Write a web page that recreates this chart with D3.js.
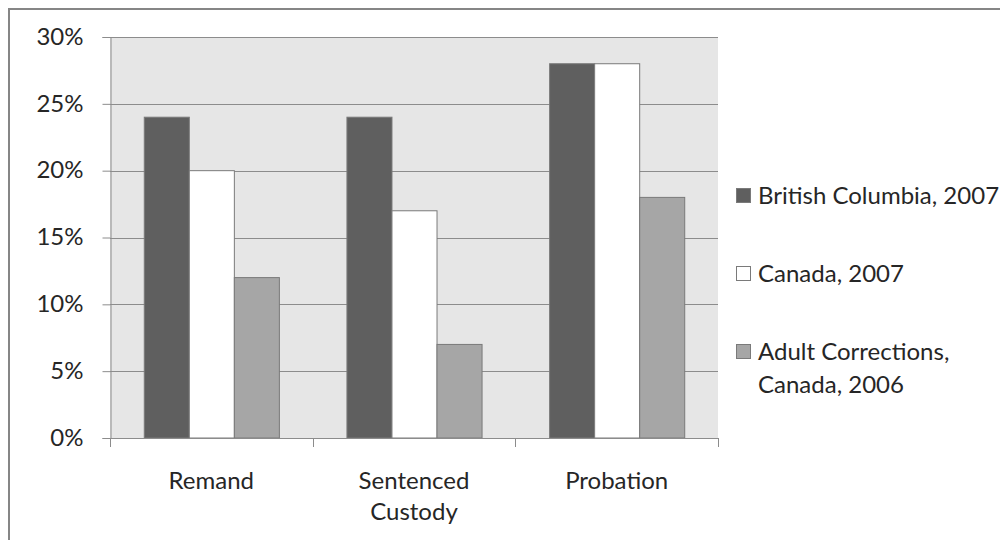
<!DOCTYPE html>
<html>
<head>
<meta charset="utf-8">
<script src="https://cdn.jsdelivr.net/npm/d3@7"></script>
<style>
  html, body { margin: 0; padding: 0; background: #fff; }
  svg { display: block; }
  text { font-family: Lato, "Open Sans", sans-serif; fill: #262626; }
</style>
</head>
<body>
<svg id="chart" width="1000" height="540"></svg>
<script>
// Share of population by correctional status (percent)
const categories = ["Remand", "Sentenced\nCustody", "Probation"];
const seriesNames = ["British Columbia, 2007", "Canada, 2007", "Adult Corrections,\nCanada, 2006"];
const britishColumbia2007 = [24, 24, 28];
const canada2007 = [20, 17, 28];
const adultCorrections2006 = [12, 7, 18];
const yTicks = [0, 5, 10, 15, 20, 25, 30];

const seriesValues = [britishColumbia2007, canada2007, adultCorrections2006];
const fills = ["#5f5f5f", "#ffffff", "#a6a6a6"];

const svg = d3.select("#chart");
const plot = { left: 110, right: 718, top: 37, bottom: 438 };

// outer chart frame
svg.append("rect")
  .attr("x", 9).attr("y", 9)
  .attr("width", 1000).attr("height", 540)
  .attr("fill", "#fff").attr("stroke", "#868686").attr("stroke-width", 2);

// plot background
svg.append("rect")
  .attr("x", plot.left).attr("y", plot.top)
  .attr("width", plot.right - plot.left).attr("height", plot.bottom - plot.top)
  .attr("fill", "#e6e6e6");

const y = d3.scaleLinear().domain([0, 30]).range([plot.bottom, plot.top]);
const x0 = d3.scaleBand().domain(d3.range(categories.length))
  .range([plot.left, plot.right]).paddingInner(0).paddingOuter(0);
// three bars per group, with gaps of 1.5 bar widths split across both sides
const x1 = d3.scaleBand().domain(d3.range(seriesNames.length))
  .range([0, x0.bandwidth()]).paddingOuter(0.75).paddingInner(0);

// horizontal gridlines
svg.append("g")
  .selectAll("line")
  .data(yTicks.filter(t => t > 0))
  .join("line")
  .attr("x1", plot.left).attr("x2", plot.right)
  .attr("y1", d => Math.round(y(d)) + 0.5).attr("y2", d => Math.round(y(d)) + 0.5)
  .attr("stroke", "#8c8c8c").attr("stroke-width", 1);

// bars
const groups = svg.append("g")
  .selectAll("g")
  .data(categories.map((c, i) => i))
  .join("g")
  .attr("transform", i => `translate(${x0(i)},0)`);

groups.selectAll("rect")
  .data(i => seriesValues.map((vals, s) => ({ s, v: vals[i] })))
  .join("rect")
  .attr("x", d => x1(d.s) + 0.5)
  .attr("y", d => y(d.v))
  .attr("width", x1.bandwidth())
  .attr("height", d => plot.bottom - y(d.v))
  .attr("fill", d => fills[d.s])
  .attr("stroke", "#7a7a7a").attr("stroke-width", 1);

// y axis
const yAxis = d3.axisLeft(y).tickValues(yTicks).tickFormat(d => d + "%").tickSize(8).tickPadding(19);
const gy = svg.append("g").attr("transform", `translate(${plot.left + 0.5},0)`).call(yAxis);
gy.select(".domain").attr("stroke", "#8c8c8c");
gy.selectAll(".tick line").attr("stroke", "#8c8c8c");
gy.selectAll(".tick text").attr("font-size", 24).attr("font-family", "Lato, sans-serif").attr("fill", "#262626").attr("dy", "0.3em");

// x axis with category boundary ticks
const gx = svg.append("g");
gx.append("line")
  .attr("x1", plot.left).attr("x2", plot.right)
  .attr("y1", plot.bottom + 0.5).attr("y2", plot.bottom + 0.5)
  .attr("stroke", "#8c8c8c");
const boundaries = d3.range(categories.length + 1).map(i => i < categories.length ? x0(i) : plot.right);
gx.selectAll("line.tk")
  .data(boundaries)
  .join("line").attr("class", "tk")
  .attr("x1", d => Math.round(d) + 0.5).attr("x2", d => Math.round(d) + 0.5)
  .attr("y1", plot.bottom).attr("y2", plot.bottom + 9)
  .attr("stroke", "#8c8c8c");

gx.selectAll("text.cat")
  .data(categories)
  .join("text").attr("class", "cat")
  .attr("text-anchor", "middle")
  .attr("font-size", 24)
  .each(function (d, i) {
    const t = d3.select(this);
    d.split("\n").forEach((line, k) => {
      t.append("tspan")
        .attr("x", x0(i) + x0.bandwidth() / 2)
        .attr("y", 489 + k * 31)
        .text(line);
    });
  });

// legend
const legendRows = [204, 282, 360];
const legend = svg.append("g");
seriesNames.forEach((name, s) => {
  const base = legendRows[s];
  legend.append("rect")
    .attr("x", 736.5).attr("y", base - 15.5)
    .attr("width", 14).attr("height", 14)
    .attr("fill", fills[s]).attr("stroke", "#7a7a7a");
  const t = legend.append("text").attr("font-size", 24);
  name.split("\n").forEach((line, k) => {
    t.append("tspan").attr("x", 758).attr("y", base + k * 33).text(line);
  });
});
</script>
</body>
</html>
